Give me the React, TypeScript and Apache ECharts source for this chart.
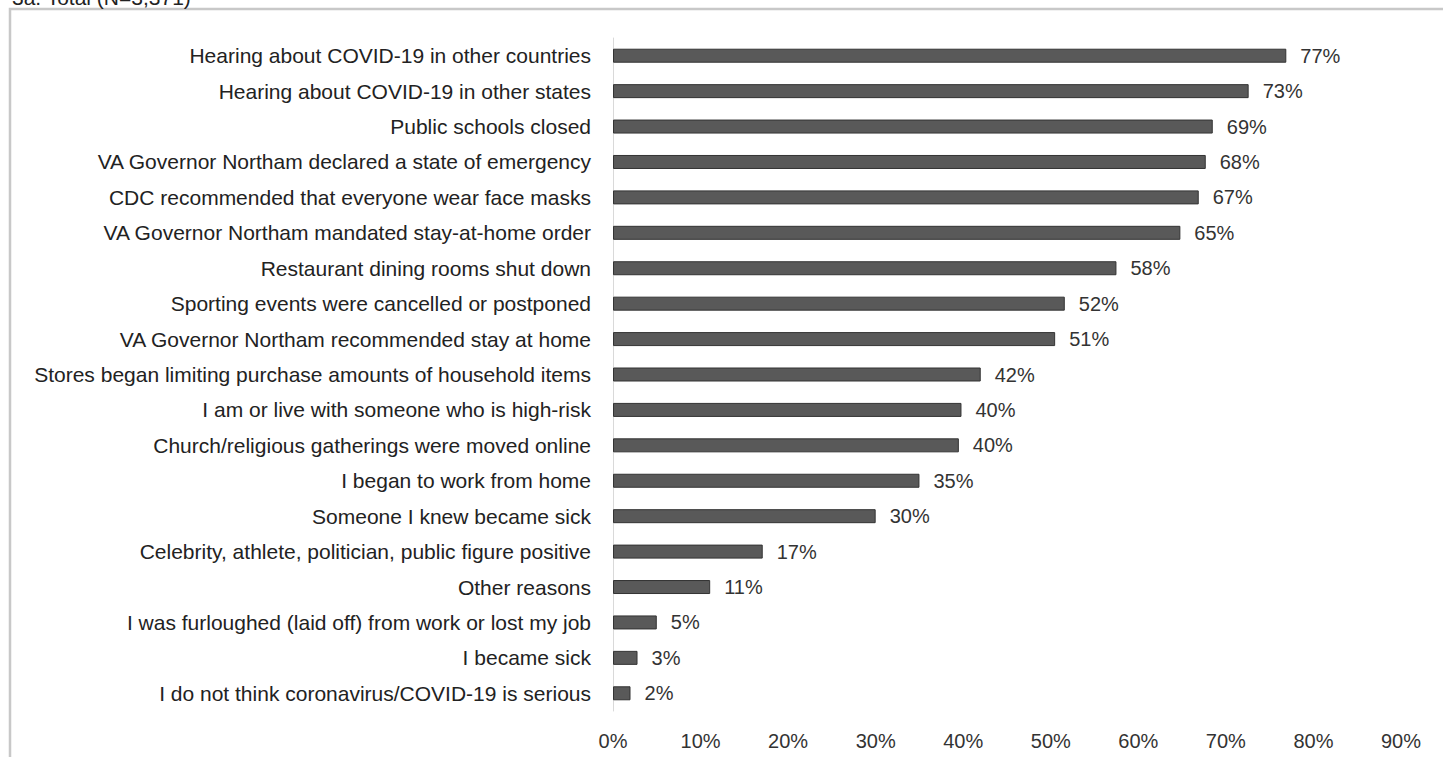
import React, { useEffect, useRef } from "react";
import * as echarts from "echarts";

const categories = [
  "Hearing about COVID-19 in other countries",
  "Hearing about COVID-19 in other states",
  "Public schools closed",
  "VA Governor Northam declared a state of emergency",
  "CDC recommended that everyone wear face masks",
  "VA Governor Northam mandated stay-at-home order",
  "Restaurant dining rooms shut down",
  "Sporting events were cancelled or postponed",
  "VA Governor Northam recommended stay at home",
  "Stores began limiting purchase amounts of household items",
  "I am or live with someone who is high-risk",
  "Church/religious gatherings were moved online",
  "I began to work from home",
  "Someone I knew became sick",
  "Celebrity, athlete, politician, public figure positive",
  "Other reasons",
  "I was furloughed (laid off) from work or lost my job",
  "I became sick",
  "I do not think coronavirus/COVID-19 is serious",
];
const values = [
  76.9, 72.6, 68.5, 67.7, 66.9, 64.8, 57.5, 51.6, 50.5, 42.0, 39.8, 39.5, 35.0, 30.0, 17.1,
  11.1, 5.0, 2.8, 2.0,
];
const titleText = "3a. Total (N=3,371)";

export default function App() {
  const ref = useRef<HTMLDivElement>(null);
  useEffect(() => {
    const chart = echarts.init(ref.current!, null, { renderer: "svg" });
    const font = "'Liberation Sans', Arial, sans-serif";
    chart.setOption({
      animation: false,
      backgroundColor: "#ffffff",
      textStyle: { fontFamily: font },
      graphic: [
        {
          type: "rect",
          shape: { x: 10, y: 9, width: 1460, height: 780 },
          style: { fill: "none", stroke: "#c8c8c8", lineWidth: 2.5 },
          z: -1,
        },
        {
          type: "text",
          left: 12,
          top: -13,
          style: { text: titleText, font: `21px ${font}`, fill: "#222" },
        },
      ],
      grid: { left: 613, right: 42, top: 38, bottom: 46, containLabel: false },
      xAxis: {
        type: "value",
        min: 0,
        max: 90,
        interval: 10,
        axisLine: { show: false },
        axisTick: { show: false },
        splitLine: { show: false },
        axisLabel: {
          formatter: "{value}%",
          color: "#333",
          fontSize: 20,
          margin: 20,
          fontFamily: font,
        },
      },
      yAxis: {
        type: "category",
        inverse: true,
        data: categories,
        axisLine: { show: true, lineStyle: { color: "#d9d9d9", width: 1 } },
        axisTick: { show: false },
        axisLabel: { color: "#222", fontSize: 21, margin: 22, fontFamily: font },
      },
      series: [
        {
          type: "bar",
          data: values,
          barWidth: 14,
          itemStyle: { color: "#595959", borderColor: "#333", borderWidth: 1 },
          label: {
            show: true,
            position: "right",
            distance: 14,
            formatter: (p: any) => Math.round(p.value) + "%",
            color: "#333",
            fontSize: 20,
            fontFamily: font,
          },
        },
      ],
    });
    return () => chart.dispose();
  }, []);
  return (
    <div
      ref={ref}
      style={{ position: "fixed", left: 0, top: 0, width: 1443, height: 757 }}
    />
  );
}
